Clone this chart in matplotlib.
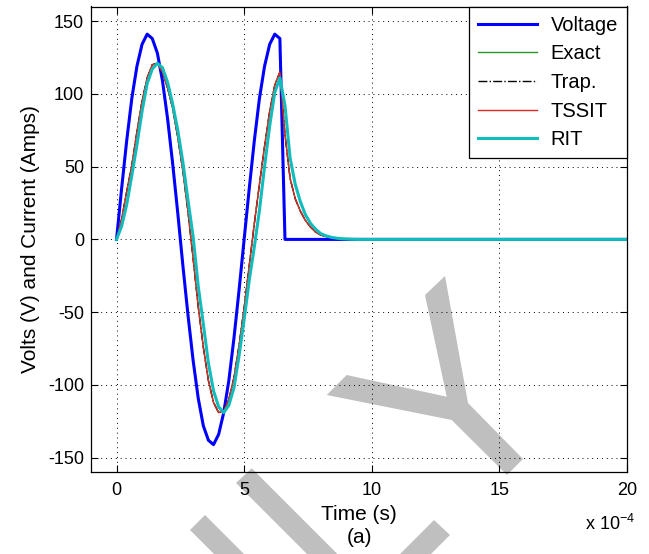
import matplotlib
matplotlib.use("Agg")
import matplotlib.pyplot as plt
from matplotlib.patches import Polygon

plt.rcParams['font.family'] = 'Liberation Sans'
plt.rcParams['mathtext.fontset'] = 'custom'
plt.rcParams['mathtext.rm'] = 'Liberation Sans'
plt.rcParams['axes.unicode_minus'] = False

# time samples, in units of 1e-4 s
t = [0.0, 0.2, 0.4, 0.6, 0.8, 1.0, 1.2, 1.4, 1.6, 1.8,
     2.0, 2.2, 2.4, 2.6, 2.8, 3.0, 3.2, 3.4, 3.6, 3.8,
     4.0, 4.2, 4.4, 4.6, 4.8, 5.0, 5.2, 5.4, 5.6, 5.8,
     6.0, 6.2, 6.4, 6.6, 6.8, 7.0, 7.2, 7.4, 7.6, 7.8,
     8.0, 8.2, 8.4, 8.6, 8.8, 9.0, 9.2, 9.4, 20.0]

# source voltage (V), switched off after the second positive peak
voltage = [0, 35, 68, 97, 119, 134, 141, 138, 128, 109,
           83, 52, 18, -18, -52, -83, -109, -128, -138, -141,
           -134, -119, -97, -68, -35, 0, 35, 68, 97, 119,
           134, 141, 138, 0, 0, 0, 0, 0, 0, 0,
           0, 0, 0, 0, 0, 0, 0, 0, 0]

# current (A) for each method
i_tssit = [0, 14, 33, 51, 74, 95, 111, 120, 121, 115,
           104, 90, 70, 47, 19, -13, -46, -74, -97, -112,
           -119, -118, -110, -95, -73, -47, -18, 11, 38, 64,
           88, 106, 115, 72, 42, 28, 19.5, 13, 8.5, 5,
           3, 2, 1.2, 0.7, 0.4, 0.2, 0.1, 0, 0]
i_exact = list(i_tssit)
i_trap = list(i_tssit)
i_rit = [0, 9, 24, 44, 65, 88, 107, 117, 121, 118,
         108, 93, 75, 53, 27, 2, -32, -58, -85, -104,
         -115, -119, -114, -102, -80, -55, -28, -5, 20, 50,
         78, 101, 111, 92, 56, 38, 26, 17, 11, 7,
         4, 2.5, 1.5, 0.9, 0.5, 0.3, 0.1, 0, 0]

xticks = [0, 5, 10, 15, 20]
yticks = [-150, -100, -50, 0, 50, 100, 150]

W, H = 649, 554
fig = plt.figure(figsize=(W / 100, H / 100), dpi=100)
ax = fig.add_axes([91 / W, 1 - 472.3 / H, (627 - 91) / W, (472.3 - 6.5) / H])

ax.plot(t, voltage, color='#0000ff', lw=2.2, label='Voltage')
ax.plot(t, i_exact, color='#2a962a', lw=1.0, label='Exact')
ax.plot(t, i_trap, color='k', lw=1.0, ls='-.', label='Trap.')
ax.plot(t, i_tssit, color='#e02828', lw=1.0, label='TSSIT')
ax.plot(t, i_rit, color='#10bcbc', lw=2.2, label='RIT')

ax.set_xlim(-1, 20)
ax.set_ylim(-160, 160)
ax.set_xticks(xticks)
ax.set_yticks(yticks)
ax.tick_params(direction='in', top=True, right=True, length=5, width=0.8,
               labelsize=13)
ax.tick_params(axis='x', pad=7)
ax.tick_params(axis='y', pad=5)
ax.grid(True, color='k', linestyle=(0, (1, 4)), linewidth=0.7)
for s in ax.spines.values():
    s.set_linewidth(0.9)

ax.set_xlabel('Time (s)\n(a)', fontsize=15, linespacing=1.3, labelpad=4)
ax.set_ylabel('Volts (V) and Current (Amps)', fontsize=15, labelpad=6)
fig.text(635 / W, 1 - 524 / H, r'x 10$^{-4}$', ha='right', va='center',
         fontsize=13)

leg = ax.legend(loc='upper right', borderaxespad=0, fancybox=False,
                framealpha=1, edgecolor='k', fontsize=14.5,
                handlelength=2.9, handletextpad=0.68, labelspacing=0.48,
                borderpad=0.45)
leg.get_frame().set_linewidth(0.9)

# grey watermark strokes (pixel coords of the scanned page)
marks = [
    [(445, 276), (468, 403), (523, 459), (507, 475), (451.7, 420),
     (326.7, 395), (346.7, 375), (446.7, 396.7), (425, 295)],
    [(236, 483), (251.7, 468.3), (337.4, 554), (307, 554)],
    [(190, 530), (205, 515), (244, 554), (214, 554)],
    [(434, 520), (450, 535), (431, 554), (400, 554)],
]
for m in marks:
    pts = [(x / W, 1 - y / H) for x, y in m]
    fig.add_artist(Polygon(pts, closed=True, transform=fig.transFigure,
                           facecolor='k', alpha=0.25, edgecolor='none',
                           zorder=5))

fig.savefig('out.png', dpi=100)
